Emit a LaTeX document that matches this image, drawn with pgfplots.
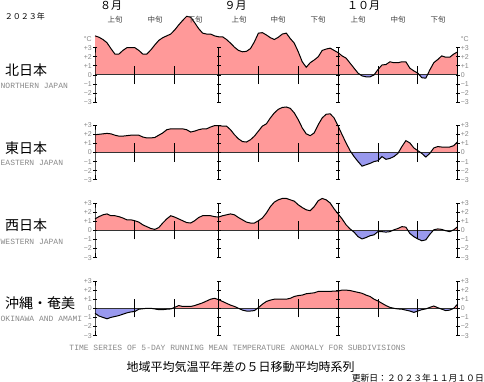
\documentclass[border=0pt]{standalone}
\usepackage{pgfplots}
\pgfplotsset{compat=1.18}
\usepackage{pgfplotstable}
\usepackage{fontspec}
\setmainfont{Liberation Sans}
\newfontfamily\jp{Noto Sans CJK JP}
\newfontfamily\mono{Liberation Mono}
\definecolor{pinkc}{HTML}{FF9999}
\definecolor{bluec}{HTML}{9999EE}
\definecolor{labg}{HTML}{888888}
\definecolor{zerol}{HTML}{333333}

\pgfplotstableread{
d n e w o
0 4.3 1.95 1.25 -0.55
1 4.15 2.0 1.5 -0.85
2 3.9 2.05 1.7 -1.0
3 3.55 2.1 1.8 -1.15
4 2.9 2.05 1.6 -1.0
5 2.3 1.9 1.6 -0.9
6 2.3 1.8 1.5 -0.8
7 2.7 1.8 1.35 -0.65
8 3.0 1.85 1.15 -0.5
9 3.0 1.9 1.15 -0.4
10 3.0 1.9 1.05 -0.35
11 2.7 1.9 0.9 -0.1
12 2.3 1.7 0.6 -0.05
13 2.3 1.6 0.4 0
14 2.75 1.6 0.2 0
15 3.3 1.65 0.1 -0.07
16 3.8 1.9 0.3 -0.15
17 4.1 2.15 0.8 -0.15
18 4.3 2.5 1.25 -0.1
19 4.5 2.6 1.6 -0.07
20 4.95 2.6 1.45 0.1
21 5.5 2.6 1.25 0.3
22 6.0 2.6 1.05 0.2
23 6.45 2.5 0.85 0.2
24 6.35 2.25 0.8 0.2
25 5.75 2.35 1.05 0.3
26 5.1 2.5 1.4 0.45
27 4.6 2.6 1.6 0.6
28 4.5 2.6 1.6 0.8
29 4.5 2.8 1.6 1.0
30 4.3 2.95 1.5 1.1
31 4.2 2.95 1.45 0.95
32 4.2 2.9 1.6 0.75
33 3.9 2.9 1.7 0.55
34 3.5 2.5 1.8 0.35
35 3.05 1.95 1.7 0.2
36 2.7 1.5 1.4 0
37 2.55 1.2 1.15 -0.2
38 2.6 1.15 0.9 -0.3
39 2.9 1.4 0.8 -0.3
40 3.65 1.8 0.8 -0.25
41 4.6 2.35 1.05 0.07
42 4.65 2.9 1.35 0.45
43 4.4 3.15 1.9 0.75
44 4.1 3.8 2.6 0.9
45 3.9 4.35 3.1 1.0
46 4.15 4.75 3.35 1.0
47 4.5 4.95 3.5 1.0
48 4.6 5.0 3.5 1.0
49 4.0 4.85 3.35 1.1
50 3.5 4.35 3.2 1.3
51 2.55 3.6 2.8 1.4
52 1.45 2.7 2.5 1.45
53 0.85 2.05 2.25 1.6
54 1.35 1.85 2.15 1.65
55 1.65 2.15 2.6 1.7
56 2.0 3.05 3.25 1.85
57 2.7 3.8 3.5 1.85
58 2.85 4.2 3.35 1.85
59 2.95 4.25 3.0 1.85
60 2.7 3.8 2.35 1.9
61 2.45 2.9 1.8 1.9
62 2.1 1.95 1.25 2.0
63 1.85 1.05 0.6 2.0
64 1.3 0.2 0.15 1.95
65 0.75 -0.45 -0.2 1.85
66 0.2 -1.0 -0.7 1.75
67 -0.1 -1.5 -0.95 1.65
68 -0.2 -1.35 -0.8 1.45
69 -0.2 -1.2 -0.6 1.3
70 0 -1.0 -0.5 1.0
71 0.6 -0.9 -0.15 0.8
72 1.1 -0.45 -0.15 0.55
73 1.15 -0.75 -0.2 0.3
74 1.45 -0.65 -0.15 0.1
75 1.35 -0.45 0.05 0
76 1.35 -0.1 0.2 -0.07
77 1.45 0.65 0.4 -0.1
78 1.45 1.3 0.35 -0.2
79 0.75 1.05 -0.35 -0.3
80 0.45 0.5 -0.7 -0.45
81 0.2 0.2 -0.95 -0.3
82 -0.3 -0.1 -1.15 -0.15
83 -0.35 -0.5 -1.05 -0.07
84 0.55 -0.1 -0.45 0.1
85 1.35 0.5 0.05 0.25
86 1.7 0.65 0.15 0.07
87 2.1 0.6 0.1 -0.1
88 1.95 0.6 -0.05 -0.25
89 1.95 0.6 -0.15 -0.2
90 2.3 0.75 0.05 0
91 2.55 1.2 0.4 0.45
}\data

\newcommand\tl{\fontsize{7pt}{7pt}\selectfont}
\newcommand\panel[3]{%
\begin{axis}[at={(95pt,#2)}, anchor=south west, scale only axis,
  width=362.7pt, height=54.6pt, xmin=0, xmax=91, ymin=-3, ymax=3,
  hide axis, clip=false]
 \begin{scope}
  \clip (axis cs:0,0) rectangle (axis cs:91,8);
  \addplot[fill=pinkc, draw=none] table[x=d,y=#1]{\data} \closedcycle;
 \end{scope}
 \begin{scope}
  \clip (axis cs:0,0) rectangle (axis cs:91,-8);
  \addplot[fill=bluec, draw=none] table[x=d,y=#1]{\data} \closedcycle;
 \end{scope}
 \addplot[zerol, line width=1pt] coordinates {(0,0)(91,0)};
 \addplot[black, line width=1pt] table[x=d,y=#1]{\data};
 \addplot[black, line width=0.9pt, mark=-, mark size=2pt, mark options={line width=0.8pt}] coordinates {(0,-3)(0,-2)(0,-1)(0,0)(0,1)(0,2)(0,3)};
 \addplot[black, line width=0.9pt, mark=-, mark size=2pt, mark options={line width=0.8pt}] coordinates {(31,-3)(31,-2)(31,-1)(31,0)(31,1)(31,2)(31,3)};
 \addplot[black, line width=0.9pt, mark=-, mark size=2pt, mark options={line width=0.8pt}] coordinates {(61,-3)(61,-2)(61,-1)(61,0)(61,1)(61,2)(61,3)};
 \addplot[black, line width=0.9pt, mark=-, mark size=2pt, mark options={line width=0.8pt}] coordinates {(91,-3)(91,-2)(91,-1)(91,0)(91,1)(91,2)(91,3)};
 \addplot[black, line width=0.9pt, unbounded coords=jump] coordinates {(10,-1)(10,1)(10,nan)(20,-1)(20,1)(20,nan)(41,-1)(41,1)(41,nan)(51,-1)(51,1)(51,nan)(71,-1)(71,1)(71,nan)(81,-1)(81,1)};
 \node[anchor=east, text=labg, font=\tl, inner sep=0pt, xshift=-3pt] at (axis cs:0,3) {+3};
 \node[anchor=east, text=labg, font=\tl, inner sep=0pt, xshift=-3pt] at (axis cs:0,2) {+2};
 \node[anchor=east, text=labg, font=\tl, inner sep=0pt, xshift=-3pt] at (axis cs:0,1) {+1};
 \node[anchor=east, text=labg, font=\tl, inner sep=0pt, xshift=-3pt] at (axis cs:0,0) {0};
 \node[anchor=east, text=labg, font=\tl, inner sep=0pt, xshift=-3pt] at (axis cs:0,-1) {−1};
 \node[anchor=east, text=labg, font=\tl, inner sep=0pt, xshift=-3pt] at (axis cs:0,-2) {−2};
 \node[anchor=east, text=labg, font=\tl, inner sep=0pt, xshift=-3pt] at (axis cs:0,-3) {−3};
 \node[anchor=west, text=labg, font=\tl, inner sep=0pt, xshift=3pt] at (axis cs:91,3) {+3};
 \node[anchor=west, text=labg, font=\tl, inner sep=0pt, xshift=3pt] at (axis cs:91,2) {+2};
 \node[anchor=west, text=labg, font=\tl, inner sep=0pt, xshift=3pt] at (axis cs:91,1) {+1};
 \node[anchor=west, text=labg, font=\tl, inner sep=0pt, xshift=3pt] at (axis cs:91,0) {0};
 \node[anchor=west, text=labg, font=\tl, inner sep=0pt, xshift=3pt] at (axis cs:91,-1) {−1};
 \node[anchor=west, text=labg, font=\tl, inner sep=0pt, xshift=3pt] at (axis cs:91,-2) {−2};
 \node[anchor=west, text=labg, font=\tl, inner sep=0pt, xshift=3pt] at (axis cs:91,-3) {−3};
 #3
\end{axis}}

\begin{document}
\begin{tikzpicture}[x=1pt,y=1pt]
\useasboundingbox (0,0) rectangle (484,382);
% panels
\panel{n}{279.7pt}{%
 \node[anchor=east, text=labg, font=\tl, inner sep=0pt, xshift=-3pt] at (axis cs:0,3.9) {°C};
 \node[anchor=west, text=labg, font=\tl, inner sep=0pt, xshift=3pt] at (axis cs:91,3.9) {°C};}
\panel{e}{202.2pt}{}
\panel{w}{124.4pt}{}
\panel{o}{46.4pt}{}
% header texts
\node[font=\jp\fontsize{8pt}{8pt}\selectfont, anchor=center] at (25,366) {２０２３年};
\node[font=\jp\fontsize{11pt}{11pt}\selectfont] at (111,376) {８月};
\node[font=\jp\fontsize{11pt}{11pt}\selectfont] at (235.5,376) {９月};
\node[font=\jp\fontsize{11pt}{11pt}\selectfont] at (363.5,376) {１０月};
\foreach \xx/\tt in {115/上旬,155/中旬,195/下旬,239/上旬,278/中旬,318/下旬,358/上旬,398/中旬,438/下旬}
  \node[font=\jp\fontsize{7.5pt}{7.5pt}\selectfont, text=black!75] at (\xx,362) {\tt};
% region names
\node[font=\jp\fontsize{14pt}{14pt}\selectfont, anchor=west, inner sep=0pt] at (5,312) {北日本};
\node[font=\mono\fontsize{8pt}{8pt}\selectfont, text=labg, anchor=west, inner sep=0pt] at (0.5,296) {NORTHERN JAPAN};
\node[font=\jp\fontsize{14pt}{14pt}\selectfont, anchor=west, inner sep=0pt] at (5,234.3) {東日本};
\node[font=\mono\fontsize{8pt}{8pt}\selectfont, text=labg, anchor=west, inner sep=0pt] at (0.5,219) {EASTERN JAPAN};
\node[font=\jp\fontsize{14pt}{14pt}\selectfont, anchor=west, inner sep=0pt] at (5,157) {西日本};
\node[font=\mono\fontsize{8pt}{8pt}\selectfont, text=labg, anchor=west, inner sep=0pt] at (0.5,140.3) {WESTERN JAPAN};
\node[font=\jp\fontsize{14pt}{14pt}\selectfont, anchor=west, inner sep=0pt] at (5,79) {沖縄・奄美};
\node[font=\mono\fontsize{8pt}{8pt}\selectfont, text=labg, anchor=west, inner sep=0pt] at (0.5,63) {OKINAWA AND AMAMI};
% footer
\node[font=\mono\fontsize{8pt}{8pt}\selectfont, text=labg] at (237.5,33.7) {TIME SERIES OF 5-DAY RUNNING MEAN TEMPERATURE ANOMALY FOR SUBDIVISIONS};
\node[font=\jp\fontsize{12pt}{12pt}\selectfont] at (240.5,15.3) {地域平均気温平年差の５日移動平均時系列};
\node[font=\jp\fontsize{8.8pt}{8.8pt}\selectfont, anchor=east, inner sep=0pt] at (484,4) {更新日：２０２３年１１月１０日};
\end{tikzpicture}
\end{document}
